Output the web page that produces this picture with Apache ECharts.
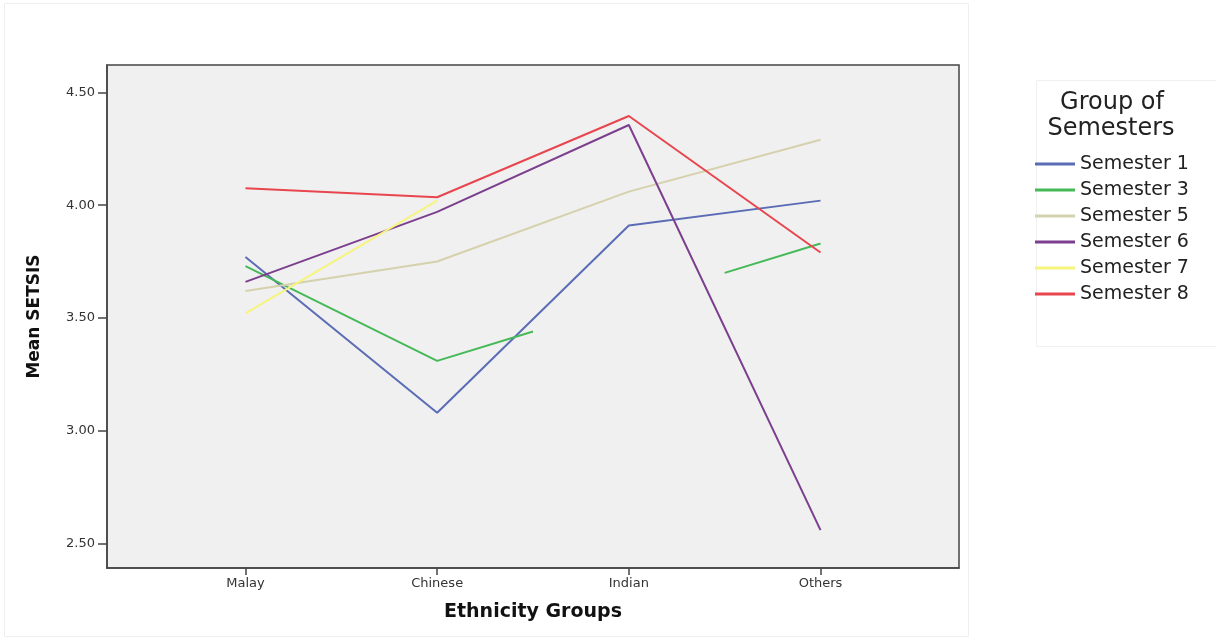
<!DOCTYPE html>
<html>
<head>
<meta charset="utf-8">
<script src="https://cdn.jsdelivr.net/npm/echarts@6/dist/echarts.min.js"></script>
<style>html,body{margin:0;padding:0;background:#fff}#c{width:1216px;height:641px}</style>
</head>
<body>
<div id="c"></div>
<script>
// Data
const categories = ['Malay', 'Chinese', 'Indian', 'Others'];
const yTicks = [2.5, 3.0, 3.5, 4.0, 4.5];
const seriesNames = ['Semester 1', 'Semester 3', 'Semester 5', 'Semester 6', 'Semester 7', 'Semester 8'];
// [category position, mean] pairs; '-' marks a gap
const sem1 = [[0, 3.77], [1, 3.08], [2, 3.91], [3, 4.02]];
const sem3 = [[0, 3.73], [1, 3.31], [1.5, 3.44], [2, '-'], [2.5, 3.70], [3, 3.83]];
const sem5 = [[0, 3.62], [1, 3.75], [2, 4.06], [3, 4.29]];
const sem6 = [[0, 3.66], [1, 3.97], [2, 4.355], [3, 2.56]];
const sem7 = [[0, 3.52], [1, 4.02]];
const sem8 = [[0, 4.075], [1, 4.035], [2, 4.395], [3, 3.79]];
const seriesData = [sem1, sem3, sem5, sem6, sem7, sem8];
const colors = ['#5b6cb6', '#45b957', '#d5d1ad', '#7c3f8e', '#f6f47e', '#e8464f'];

const chart = echarts.init(document.getElementById('c'), null, {renderer: 'canvas'});
const font = '"DejaVu Sans", "Liberation Sans", Arial, sans-serif';
chart.setOption({
  animation: false,
  backgroundColor: '#ffffff',
  color: colors,
  graphic: [
    {type: 'rect', shape: {x: 4.5, y: 3.5, width: 964, height: 633}, style: {fill: 'none', stroke: '#eeeeee', lineWidth: 1}, silent: true, z: -10},
    {type: 'rect', shape: {x: 1036.5, y: 80.5, width: 185, height: 266}, style: {fill: '#ffffff', stroke: '#f0f0f0', lineWidth: 1}, silent: true, z: -10},
    {type: 'text', x: 1112, y: 103, style: {text: 'Group of', font: '24px ' + font, fill: '#222', align: 'center', verticalAlign: 'middle'}},
    {type: 'text', x: 1111, y: 129, style: {text: 'Semesters', font: '24px ' + font, fill: '#222', align: 'center', verticalAlign: 'middle'}}
  ],
  grid: {left: 107, top: 65, width: 852, height: 503, show: true, backgroundColor: '#f0f0f0', borderColor: '#444', borderWidth: 1.5, containLabel: false},
  legend: {
    orient: 'vertical', left: 1030, top: 149,
    itemWidth: 40, itemHeight: 3, itemGap: 6, icon: 'rect',
    textStyle: {fontSize: 19, fontFamily: font, color: '#222', lineHeight: 20},
    data: seriesNames
  },
  xAxis: {
    type: 'value', min: -0.7225, max: 3.7225,
    name: 'Ethnicity Groups', nameLocation: 'middle', nameGap: 35,
    nameTextStyle: {fontSize: 19, fontWeight: 'bold', fontFamily: font, color: '#111'},
    axisLine: {show: true, onZero: false, lineStyle: {color: '#444', width: 1.5}},
    axisTick: {show: true, length: 7, lineStyle: {color: '#444', width: 1.5}, customValues: [0, 1, 2, 3]},
    axisLabel: {customValues: [0, 1, 2, 3], formatter: v => categories[Math.round(v)], fontSize: 13, fontFamily: font, color: '#333', margin: 9},
    splitLine: {show: false}
  },
  yAxis: {
    type: 'value', min: 2.392, max: 4.621,
    name: 'Mean SETSIS', nameLocation: 'middle', nameGap: 64, nameRotate: 90,
    nameTextStyle: {fontSize: 17, fontWeight: 'bold', fontFamily: font, color: '#111'},
    axisLine: {show: true, onZero: false, lineStyle: {color: '#444', width: 1.5}},
    axisTick: {show: true, length: 9, lineStyle: {color: '#444', width: 1.5}, customValues: yTicks},
    axisLabel: {customValues: yTicks, formatter: v => v.toFixed(2), fontSize: 13, fontFamily: font, color: '#333', margin: 12},
    splitLine: {show: false}
  },
  series: seriesNames.map((n, i) => ({
    name: n, type: 'line', data: seriesData[i], symbol: 'none', connectNulls: false,
    lineStyle: {width: 2, color: colors[i]}, itemStyle: {color: colors[i]}
  }))
});
</script>
</body>
</html>
